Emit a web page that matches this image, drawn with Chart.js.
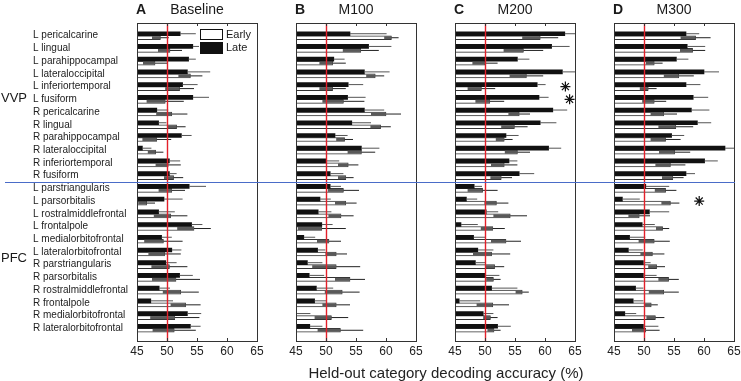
<!DOCTYPE html>
<html>
<head>
<meta charset="utf-8">
<script src="https://cdn.jsdelivr.net/npm/chart.js@4.4.1/dist/chart.umd.min.js"></script>
<style>
  html, body { margin: 0; padding: 0; background: #fff; }
  #wrap { position: relative; width: 741px; height: 381px; overflow: hidden; }
  #wrap canvas { position: absolute; top: 0; }
  #xTitle {
    position: absolute; left: 246px; width: 400px; top: 364px;
    text-align: center; font: 15px "Liberation Sans", Arial, sans-serif;
    line-height: 17px; color: #222;
  }
</style>
</head>
<body>
<div id="wrap">
  <canvas id="panelA" width="272" height="381" style="left:0px"></canvas>
  <canvas id="panelB" width="159" height="381" style="left:272px"></canvas>
  <canvas id="panelC" width="159" height="381" style="left:431px"></canvas>
  <canvas id="panelD" width="155" height="381" style="left:590px"></canvas>
  <div id="xTitle">Held-out category decoding accuracy (%)</div>
</div>
<script>
// Regions (rows, top to bottom)
const regions = [
  'L pericalcarine', 'L lingual', 'L parahippocampal', 'L lateraloccipital',
  'L inferiortemporal', 'L fusiform', 'R pericalcarine', 'R lingual',
  'R parahippocampal', 'R lateraloccipital', 'R inferiortemporal', 'R fusiform',
  'L parstriangularis', 'L parsorbitalis', 'L rostralmiddlefrontal', 'L frontalpole',
  'L medialorbitofrontal', 'L lateralorbitofrontal', 'R parstriangularis', 'R parsorbitalis',
  'R rostralmiddlefrontal', 'R frontalpole', 'R medialorbitofrontal', 'R lateralorbitofrontal'
];
const groupNames = ['VVP', 'PFC'];
const groupLabelRows = [5.9, 18.5];
const groupSplitRow = 12.5;
const chanceLevel = 50;

// Baseline
const baselineLate     = [52.2, 54.3, 53.6, 53.4, 52.6, 54.3, 48.3, 48.6, 52.4, 45.9, 50.4, 50.4, 53.7, 49.5, 48.6, 54.1, 49.1, 50.8, 49.8, 52.1, 48.7, 47.3, 53.4, 53.9];
const baselineLateErr  = [2.6, 2.0, 1.2, 3.8, 2.5, 2.7, 1.9, 1.3, 1.7, 1.5, 1.8, 1.2, 2.8, 3.1, 2.7, 1.8, 1.7, 1.6, 1.8, 2.2, 1.8, 3.7, 2.3, 1.7];
const baselineEarly    = [48.9, 50.5, 48.0, 53.9, 52.1, 49.7, 50.8, 51.6, 48.3, 48.1, 50.2, 51.1, 50.8, 46.6, 50.6, 54.5, 49.4, 49.6, 50.4, 51.5, 52.3, 53.1, 51.3, 51.2];
const baselineEarlyErr = [1.4, 2.0, 2.0, 2.0, 2.4, 3.1, 2.6, 1.5, 2.4, 1.3, 2.1, 1.6, 2.2, 1.4, 2.8, 2.8, 3.2, 2.7, 3.0, 4.0, 3.0, 2.5, 4.1, 3.6];

// M100
const m100Late     = [54.0, 57.1, 51.3, 56.4, 53.7, 53.6, 56.4, 54.3, 51.5, 55.9, 50.0, 50.7, 50.7, 49.0, 48.7, 49.3, 46.3, 48.6, 46.9, 47.2, 48.4, 48.1, 44.8, 47.3];
const m100LateErr  = [6.1, 3.8, 1.8, 4.2, 2.5, 3.0, 3.3, 3.2, 2.1, 3.0, 2.2, 2.2, 1.8, 1.8, 2.2, 1.8, 1.9, 1.3, 2.5, 2.5, 2.8, 1.9, 2.6, 2.1];
const m100Early    = [60.9, 55.8, 51.1, 58.2, 51.1, 52.9, 60.0, 59.1, 53.1, 55.9, 53.7, 53.3, 52.9, 53.3, 52.5, 49.3, 50.5, 51.7, 51.7, 54.0, 52.7, 51.7, 50.9, 52.4];
const m100EarlyErr = [1.2, 3.0, 2.2, 1.5, 2.2, 3.5, 2.5, 1.7, 1.4, 2.3, 1.7, 1.3, 2.6, 1.8, 2.1, 4.0, 2.0, 1.8, 4.0, 2.5, 2.9, 2.3, 2.8, 3.8];

// M200
const m200Late     = [63.3, 61.1, 55.4, 62.9, 58.7, 59.0, 61.3, 59.2, 53.5, 60.6, 54.0, 55.7, 48.2, 46.9, 50.2, 46.0, 48.1, 48.8, 48.4, 50.1, 51.1, 45.7, 49.7, 52.1];
const m200LateErr  = [2.2, 3.0, 2.0, 2.2, 1.4, 1.6, 2.4, 2.7, 2.1, 2.1, 1.4, 2.5, 1.3, 1.8, 2.0, 2.8, 2.0, 2.6, 1.7, 2.3, 4.3, 3.5, 1.7, 2.2];
const m200Early    = [59.2, 56.4, 50.0, 56.9, 49.4, 50.8, 55.7, 54.9, 53.2, 55.4, 53.2, 52.7, 49.6, 51.9, 54.2, 51.3, 53.5, 51.1, 51.6, 51.4, 56.2, 51.3, 50.9, 51.5];
const m200EarlyErr = [3.0, 3.3, 2.1, 2.8, 2.3, 2.4, 1.8, 2.2, 1.4, 2.1, 2.2, 1.8, 2.5, 2.0, 2.8, 2.0, 2.5, 3.1, 1.6, 1.2, 1.1, 2.7, 1.2, 1.1];

// M300
const m300Late     = [57.0, 57.2, 55.4, 60.0, 57.0, 58.2, 57.9, 58.9, 54.6, 63.5, 60.1, 57.0, 50.3, 46.4, 50.9, 49.7, 47.6, 47.4, 49.9, 49.9, 48.6, 48.2, 46.8, 49.9];
const m300LateErr  = [2.2, 3.0, 2.0, 2.5, 2.4, 2.5, 3.0, 2.3, 2.1, 1.8, 2.2, 1.5, 3.9, 2.9, 3.3, 2.1, 2.6, 2.4, 1.2, 2.2, 1.3, 1.7, 1.9, 2.5];
const m300Early    = [58.6, 58.1, 51.7, 55.8, 50.7, 51.7, 53.3, 55.3, 53.6, 55.1, 54.4, 54.8, 53.6, 54.4, 49.2, 53.1, 51.7, 51.4, 52.1, 54.1, 53.3, 51.2, 51.9, 50.3];
const m300EarlyErr = [2.5, 2.1, 1.4, 2.5, 1.4, 2.0, 2.2, 2.9, 2.5, 2.6, 2.5, 1.8, 1.8, 1.5, 1.8, 1.1, 2.6, 2.0, 1.4, 1.7, 2.5, 1.1, 1.5, 2.3];

// significance markers (row number, x position)
const m200SigRows = [5, 6];
const m200SigX    = [63.4, 64.1];
const m300SigRows = [14];
const m300SigX    = [59.2];

Chart.defaults.font.family = '"Liberation Sans", Arial, Helvetica, sans-serif';
Chart.defaults.color = '#222';

function toPoints(values) {
  return values.map((v, i) => ({ x: v, y: i + 1 }));
}

// error bars, frame, chance line, separator, titles, legend
const panelDecor = {
  id: 'panelDecor',
  beforeDatasetsDraw(chart) {
    const { ctx, chartArea: a } = chart;
    ctx.save();
    ctx.fillStyle = '#fff';
    ctx.fillRect(a.left, a.top, a.right - a.left, a.bottom - a.top);
    ctx.restore();
  },
  afterDatasetsDraw(chart) {
    const { ctx, chartArea: a } = chart;
    const xs = chart.scales.x;
    ctx.save();
    ctx.beginPath();
    ctx.rect(a.left, a.top, a.right - a.left, a.bottom - a.top);
    ctx.clip();
    chart.data.datasets.forEach((ds, di) => {
      if (!ds.errors) return;
      const meta = chart.getDatasetMeta(di);
      meta.data.forEach((bar, i) => {
        const v = ds.data[i].x;
        const e = ds.errors[i];
        const x0 = xs.getPixelForValue(v - e);
        const xm = xs.getPixelForValue(v);
        const x1 = xs.getPixelForValue(v + e);
        if (ds.label === 'Early') {
          ctx.fillStyle = '#595959';
          ctx.fillRect(x0, bar.y - bar.height / 2 + 0.5, xm - x0, bar.height - 1);
          ctx.strokeStyle = '#222';
        } else {
          ctx.strokeStyle = '#555';
        }
        ctx.lineWidth = 1;
        ctx.beginPath();
        ctx.moveTo(xm, bar.y);
        ctx.lineTo(x1, bar.y);
        ctx.stroke();
      });
    });
    ctx.restore();

    // chance level
    const xc = Math.round(xs.getPixelForValue(chanceLevel)) + 0.5;
    ctx.save();
    ctx.strokeStyle = '#e3202a';
    ctx.lineWidth = 1.4;
    ctx.beginPath();
    ctx.moveTo(xc, a.top);
    ctx.lineTo(xc, a.bottom);
    ctx.stroke();
    ctx.restore();
  },
  afterDraw(chart, args, opts) {
    const { ctx, chartArea: a } = chart;
    const xs = chart.scales.x;
    const ys = chart.scales.y;
    ctx.save();

    // axes box with inward ticks
    ctx.strokeStyle = '#333';
    ctx.lineWidth = 1;
    ctx.strokeRect(a.left + 0.5, a.top + 0.5, a.right - a.left, a.bottom - a.top);
    ctx.beginPath();
    [50, 55, 60].forEach(v => {
      const px = Math.round(xs.getPixelForValue(v)) + 0.5;
      ctx.moveTo(px, a.top);
      ctx.lineTo(px, a.top + 3);
      ctx.moveTo(px, a.bottom);
      ctx.lineTo(px, a.bottom - 3);
    });
    ctx.stroke();

    // titles
    ctx.fillStyle = '#1a1a1a';
    ctx.textBaseline = 'alphabetic';
    ctx.textAlign = 'left';
    ctx.font = 'bold 14px "Liberation Sans", Arial, sans-serif';
    ctx.fillText(opts.letter, a.left - 1, 14);
    ctx.textAlign = 'center';
    ctx.font = '14px "Liberation Sans", Arial, sans-serif';
    ctx.fillText(opts.title, (a.left + a.right) / 2, 14);

    // legend (first panel only)
    if (opts.legend) {
      const lx = a.right - 57;
      const ly = a.top + 6;
      const late = chart.data.datasets[0];
      const early = chart.data.datasets[1];
      ctx.fillStyle = '#fff';
      ctx.fillRect(lx - 1, ly - 1, 56, 28);
      ctx.strokeStyle = '#111';
      ctx.strokeRect(lx + 0.5, ly + 0.5, 22, 10);
      ctx.fillStyle = late.backgroundColor;
      ctx.fillRect(lx, ly + 13, 23, 12);
      ctx.fillStyle = '#1a1a1a';
      ctx.textAlign = 'left';
      ctx.textBaseline = 'middle';
      ctx.font = '11px "Liberation Sans", Arial, sans-serif';
      ctx.fillText(early.label, lx + 26, ly + 5.5);
      ctx.fillText(late.label, lx + 26, ly + 19);
    }

    // region group labels
    if (opts.groups) {
      ctx.fillStyle = '#1a1a1a';
      ctx.textAlign = 'left';
      ctx.textBaseline = 'middle';
      ctx.font = '13px "Liberation Sans", Arial, sans-serif';
      groupNames.forEach((g, i) => {
        ctx.fillText(g, 1, ys.getPixelForValue(groupLabelRows[i]));
      });
    }

    // VVP / PFC separator
    const yb = Math.round(ys.getPixelForValue(groupSplitRow)) + 0.5;
    ctx.strokeStyle = '#4a6cc8';
    ctx.lineWidth = 1;
    ctx.beginPath();
    ctx.moveTo(opts.lineFrom, yb);
    ctx.lineTo(opts.lineTo, yb);
    ctx.stroke();
    ctx.restore();
  }
};

function createPanel(id, cfg) {
  const ctx = document.getElementById(id).getContext('2d');
  const stars = cfg.sigRows.map((r, i) => ({ x: cfg.sigX[i], y: r }));
  return new Chart(ctx, {
    type: 'bar',
    data: {
      datasets: [
        {
          label: 'Late',
          data: toPoints(cfg.late),
          errors: cfg.lateErr,
          backgroundColor: '#111',
          borderWidth: 0,
          barThickness: 4
        },
        {
          label: 'Early',
          data: toPoints(cfg.early),
          errors: cfg.earlyErr,
          backgroundColor: '#fff',
          borderColor: '#333',
          borderWidth: 1,
          barThickness: 4
        },
        {
          type: 'scatter',
          label: 'sig',
          data: stars,
          pointStyle: 'star',
          pointRadius: 5,
          borderColor: '#111',
          borderWidth: 1.2,
          backgroundColor: '#111'
        }
      ]
    },
    options: {
      indexAxis: 'y',
      responsive: false,
      animation: false,
      devicePixelRatio: 1,
      events: [],
      layout: { padding: { left: cfg.padLeft, right: cfg.padRight, top: 23, bottom: 0 } },
      plugins: {
        legend: { display: false },
        tooltip: { enabled: false },
        panelDecor: {
          letter: cfg.letter,
          title: cfg.title,
          legend: cfg.showLegend,
          groups: cfg.showLabels,
          lineFrom: cfg.lineFrom,
          lineTo: cfg.lineTo
        }
      },
      scales: {
        x: {
          type: 'linear',
          min: 45,
          max: 65,
          grid: { display: false, drawTicks: false },
          border: { display: false },
          afterFit: scale => { scale.height = 40; },
          ticks: { stepSize: 5, padding: 3, font: { size: 12 }, color: '#222', maxRotation: 0 }
        },
        y: {
          type: 'linear',
          min: 0,
          max: 25,
          reverse: true,
          offset: false,
          display: cfg.showLabels,
          grid: { display: false, drawTicks: false, offset: false },
          border: { display: false },
          afterFit: scale => { scale.width = cfg.showLabels ? 104 : 0; },
          ticks: {
            stepSize: 1,
            autoSkip: false,
            crossAlign: 'far',
            padding: 0,
            font: { size: 10 },
            color: '#222',
            callback: v => regions[v - 1] || ''
          }
        }
      }
    },
    plugins: [panelDecor]
  });
}

createPanel('panelA', {
  letter: 'A', title: 'Baseline',
  late: baselineLate, lateErr: baselineLateErr, early: baselineEarly, earlyErr: baselineEarlyErr,
  sigRows: [], sigX: [],
  padLeft: 33, padRight: 15, showLabels: true, showLegend: true, lineFrom: 5, lineTo: 272
});
createPanel('panelB', {
  letter: 'B', title: 'M100',
  late: m100Late, lateErr: m100LateErr, early: m100Early, earlyErr: m100EarlyErr,
  sigRows: [], sigX: [],
  padLeft: 24, padRight: 15, showLabels: false, showLegend: false, lineFrom: 0, lineTo: 159
});
createPanel('panelC', {
  letter: 'C', title: 'M200',
  late: m200Late, lateErr: m200LateErr, early: m200Early, earlyErr: m200EarlyErr,
  sigRows: m200SigRows, sigX: m200SigX,
  padLeft: 24, padRight: 15, showLabels: false, showLegend: false, lineFrom: 0, lineTo: 159
});
createPanel('panelD', {
  letter: 'D', title: 'M300',
  late: m300Late, lateErr: m300LateErr, early: m300Early, earlyErr: m300EarlyErr,
  sigRows: m300SigRows, sigX: m300SigX,
  padLeft: 24, padRight: 11, showLabels: false, showLegend: false, lineFrom: 0, lineTo: 145
});
</script>
</body>
</html>
